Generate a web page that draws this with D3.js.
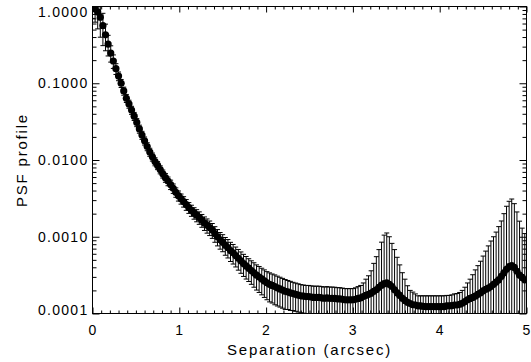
<!DOCTYPE html>
<html>
<head>
<meta charset="utf-8">
<script src="https://cdn.jsdelivr.net/npm/d3@7"></script>
<style>
  body { margin: 0; background: #fff; }
  svg { display: block; background: #fff; }
  text { font-family: "Liberation Sans", Arial, sans-serif; font-size: 14px; fill: #000; letter-spacing: 1.3px; }
  text.title { font-size: 15px; letter-spacing: 1.8px; }
</style>
</head>
<body>
<svg id="drawing_region"></svg>
<script>
// separation in arcsec
const separation = [
  0, 0.03, 0.06, 0.09, 0.12, 0.15, 0.18, 0.21, 0.24, 0.27,
  0.3, 0.33, 0.36, 0.39, 0.42, 0.45, 0.48, 0.51, 0.54, 0.57,
  0.6, 0.63, 0.66, 0.69, 0.72, 0.75, 0.78, 0.81, 0.84, 0.87,
  0.9, 0.93, 0.96, 0.99, 1.02, 1.05, 1.08, 1.11, 1.14, 1.17,
  1.2, 1.23, 1.26, 1.29, 1.32, 1.35, 1.38, 1.41, 1.44, 1.47,
  1.5, 1.53, 1.56, 1.59, 1.62, 1.65, 1.68, 1.71, 1.74, 1.77,
  1.8, 1.83, 1.86, 1.89, 1.92, 1.95, 1.98, 2.01, 2.04, 2.07,
  2.1, 2.13, 2.16, 2.19, 2.22, 2.25, 2.28, 2.31, 2.34, 2.37,
  2.4, 2.43, 2.46, 2.49, 2.52, 2.55, 2.58, 2.61, 2.64, 2.67,
  2.7, 2.73, 2.76, 2.79, 2.82, 2.85, 2.88, 2.91, 2.94, 2.97,
  3, 3.03, 3.06, 3.09, 3.12, 3.15, 3.18, 3.21, 3.24, 3.27,
  3.3, 3.33, 3.36, 3.39, 3.42, 3.45, 3.48, 3.51, 3.54, 3.57,
  3.6, 3.63, 3.66, 3.69, 3.72, 3.75, 3.78, 3.81, 3.84, 3.87,
  3.9, 3.93, 3.96, 3.99, 4.02, 4.05, 4.08, 4.11, 4.14, 4.17,
  4.2, 4.23, 4.26, 4.29, 4.32, 4.35, 4.38, 4.41, 4.44, 4.47,
  4.5, 4.53, 4.56, 4.59, 4.62, 4.65, 4.68, 4.71, 4.74, 4.77,
  4.8, 4.83, 4.86, 4.89, 4.92, 4.95, 4.98
];

// normalised PSF profile
const profile = [
  1.000, 0.933, 0.851, 0.724, 0.562, 0.427, 0.324, 0.248, 0.195, 0.155,
  0.124, 0.100, 0.0794, 0.0638, 0.0537, 0.0447, 0.0372, 0.0309, 0.0254, 0.0211,
  0.0178, 0.0150, 0.0127, 0.0110, 0.00955, 0.00851, 0.00750, 0.00661, 0.00589, 0.00531,
  0.00479, 0.00427, 0.00380, 0.00343, 0.00313, 0.00288, 0.00263, 0.00240, 0.00221, 0.00204,
  0.00191, 0.00178, 0.00164, 0.00151, 0.00141, 0.00132, 0.00122, 0.00110, 0.00100, 0.000912,
  0.000851, 0.000776, 0.000724, 0.000661, 0.000617, 0.000569, 0.000525, 0.000484, 0.000447, 0.000417,
  0.000389, 0.000363, 0.000339, 0.000316, 0.000299, 0.000282, 0.000266, 0.000251, 0.000240, 0.000232,
  0.000224, 0.000216, 0.000209, 0.000202, 0.000195, 0.000191, 0.000186, 0.000182, 0.000178, 0.000174,
  0.000170, 0.000168, 0.000166, 0.000166, 0.000164, 0.000162, 0.000162, 0.000162, 0.000160, 0.000158,
  0.000160, 0.000158, 0.000158, 0.000157, 0.000155, 0.000155, 0.000153, 0.000151, 0.000151, 0.000151,
  0.000151, 0.000153, 0.000157, 0.000160, 0.000166, 0.000172, 0.000178, 0.000184, 0.000195, 0.000204,
  0.000219, 0.000234, 0.000245, 0.000251, 0.000240, 0.000224, 0.000204, 0.000186, 0.000172, 0.000158,
  0.000148, 0.000140, 0.000135, 0.000130, 0.000129, 0.000126, 0.000126, 0.000124, 0.000123, 0.000123,
  0.000123, 0.000123, 0.000123, 0.000123, 0.000123, 0.000123, 0.000126, 0.000126, 0.000127, 0.000129,
  0.000129, 0.000132, 0.000136, 0.000143, 0.000151, 0.000157, 0.000162, 0.000168, 0.000178, 0.000186,
  0.000197, 0.000207, 0.000214, 0.000224, 0.000240, 0.000257, 0.000275, 0.000305, 0.000339, 0.000376,
  0.000407, 0.000422, 0.000398, 0.000355, 0.000316, 0.000295, 0.000275
];

// 1-sigma error on the profile
const profileErr = [
  0.30, 0.308, 0.340, 0.326, 0.253, 0.162, 0.0972, 0.0595, 0.039, 0.0248,
  0.0161, 0.012, 0.00953, 0.00766, 0.00644, 0.00536, 0.00446, 0.00371, 0.00305, 0.00253,
  0.00214, 0.00180, 0.00152, 0.00132, 0.00115, 0.00102, 0.00090, 0.000793, 0.000766, 0.000690,
  0.000671, 0.000598, 0.000532, 0.000515, 0.000470, 0.000446, 0.000421, 0.000384, 0.000365, 0.000347,
  0.000344, 0.000329, 0.000312, 0.000302, 0.000296, 0.000284, 0.000268, 0.000253, 0.000240, 0.000223,
  0.000213, 0.000202, 0.000195, 0.000185, 0.000176, 0.000165, 0.000158, 0.000150, 0.000143, 0.000136,
  0.000128, 0.000123, 0.000119, 0.000114, 0.000111, 0.000107, 0.000104, 0.000100, 0.0000984, 0.0000951,
  0.0000941, 0.0000907, 0.0000878, 0.0000848, 0.0000819, 0.0000783, 0.0000763, 0.0000728, 0.0000712, 0.0000696,
  0.000068, 0.000067, 0.000066, 0.000066, 0.000065, 0.000065, 0.000065, 0.000065, 0.000064, 0.000063,
  0.000064, 0.000063, 0.000063, 0.000063, 0.000062, 0.000062, 0.000061, 0.000060, 0.000060, 0.000060,
  0.000060, 0.000063, 0.000067, 0.000072, 0.000084, 0.000108, 0.000132, 0.000176, 0.000255, 0.000346,
  0.000461, 0.000616, 0.000805, 0.000869, 0.00076, 0.000596, 0.000476, 0.000354, 0.000258, 0.000182,
  0.000132, 0.00009, 0.000065, 0.00006, 0.000051, 0.000044, 0.000044, 0.000046, 0.000047, 0.000047,
  0.000047, 0.000047, 0.000047, 0.000047, 0.000047, 0.000047, 0.000046, 0.000046, 0.000048, 0.000051,
  0.000053, 0.000056, 0.000064, 0.000077, 0.000099, 0.000123, 0.000158, 0.000202, 0.000242, 0.000294,
  0.000363, 0.000443, 0.000546, 0.000656, 0.00076, 0.000893, 0.00108, 0.0013, 0.00166, 0.00212,
  0.00249, 0.00268, 0.0023, 0.00175, 0.00128, 0.001, 0.000825
];

const xTicks = [0, 1, 2, 3, 4, 5];
const yTicks = [1, 0.1, 0.01, 0.001, 0.0001];
const xTitle = "Separation (arcsec)";
const yTitle = "PSF profile";

const width = 531, height = 362;
const margin = { left: 92.5, right: 526.5, top: 6.5, bottom: 313.5 };

const svg = d3.select('#drawing_region')
    .attr('width', width)
    .attr('height', height);

const xscale = d3.scaleLinear().domain([0, 5]).range([margin.left, margin.right]);
const yscale = d3.scaleLog().domain([0.0001, 1]).range([margin.bottom, margin.top]);

const data = separation.map((s, i) => ({ x: s, y: profile[i], e: profileErr[i] }));

// clip everything to the plot box
svg.append('clipPath').attr('id', 'plotclip')
    .append('rect')
    .attr('x', margin.left).attr('y', margin.top)
    .attr('width', margin.right - margin.left).attr('height', margin.bottom - margin.top);

const plot = svg.append('g').attr('clip-path', 'url(#plotclip)');

const lowY = d => d.y - d.e > 0 ? yscale(d.y - d.e) : margin.bottom + 50;
const capw = 2.5;

const bars = plot.append('g')
    .attr('stroke', '#000')
    .attr('stroke-width', 1);

bars.selectAll('line.bar')
    .data(data)
    .join('line')
    .attr('class', 'bar')
    .attr('x1', d => xscale(d.x)).attr('x2', d => xscale(d.x))
    .attr('y1', d => yscale(d.y + d.e))
    .attr('y2', d => lowY(d));

bars.selectAll('line.capt')
    .data(data)
    .join('line')
    .attr('class', 'capt')
    .attr('x1', d => xscale(d.x) - capw).attr('x2', d => xscale(d.x) + capw)
    .attr('y1', d => yscale(d.y + d.e)).attr('y2', d => yscale(d.y + d.e));

bars.selectAll('line.capb')
    .data(data)
    .join('line')
    .attr('class', 'capb')
    .attr('x1', d => xscale(d.x) - capw).attr('x2', d => xscale(d.x) + capw)
    .attr('y1', d => lowY(d)).attr('y2', d => lowY(d));

plot.append('g').selectAll('circle')
    .data(data)
    .join('circle')
    .attr('cx', d => xscale(d.x))
    .attr('cy', d => yscale(d.y))
    .attr('r', 3.6)
    .attr('fill', '#000');

// axes: ticks point inward, IDL style
const xminor = d3.range(0, 5.001, 0.1).filter(v => Math.abs(v - Math.round(v)) > 1e-6);
const yminor = [];
yTicks.slice(1).forEach(t => { for (let k = 2; k <= 9; k++) yminor.push(t * k); });

const fmt = d3.format('.4f');

const xaxis = d3.axisBottom(xscale).tickValues(xTicks).tickSize(-6).tickPadding(12).tickFormat(d3.format('d'));
const xaxisMinor = d3.axisBottom(xscale).tickValues(xminor).tickSize(-3).tickFormat('');
const xaxisTop = d3.axisTop(xscale).tickValues(xTicks).tickSize(-6).tickFormat('');
const xaxisTopMinor = d3.axisTop(xscale).tickValues(xminor).tickSize(-3).tickFormat('');

const yaxis = d3.axisLeft(yscale).tickValues(yTicks).tickSize(-7).tickPadding(4).tickFormat(fmt);
const yaxisMinor = d3.axisLeft(yscale).tickValues(yminor).tickSize(-4).tickFormat('');
const yaxisRight = d3.axisRight(yscale).tickValues(yTicks).tickSize(-7).tickFormat('');
const yaxisRightMinor = d3.axisRight(yscale).tickValues(yminor).tickSize(-4).tickFormat('');

function styleAxis(g) {
    g.select('.domain').remove();
    g.selectAll('line').attr('stroke', '#000');
    g.selectAll('text').attr('font-family', null).attr('font-size', null).attr('fill', '#000');
}

svg.append('g').attr('transform', `translate(0, ${margin.bottom})`).call(xaxis).call(styleAxis);
svg.append('g').attr('transform', `translate(0, ${margin.bottom})`).call(xaxisMinor).call(styleAxis);
svg.append('g').attr('transform', `translate(0, ${margin.top})`).call(xaxisTop).call(styleAxis);
svg.append('g').attr('transform', `translate(0, ${margin.top})`).call(xaxisTopMinor).call(styleAxis);

const ygroup = svg.append('g').attr('transform', `translate(${margin.left}, 0)`).call(yaxis).call(styleAxis);
// keep end labels inside the window
ygroup.selectAll('.tick text')
    .attr('y', d => d === 1 ? 6 : (d === 0.0001 ? -3 : 0));
svg.append('g').attr('transform', `translate(${margin.left}, 0)`).call(yaxisMinor).call(styleAxis);
svg.append('g').attr('transform', `translate(${margin.right}, 0)`).call(yaxisRight).call(styleAxis);
svg.append('g').attr('transform', `translate(${margin.right}, 0)`).call(yaxisRightMinor).call(styleAxis);

// frame
svg.append('rect')
    .attr('x', margin.left).attr('y', margin.top)
    .attr('width', margin.right - margin.left).attr('height', margin.bottom - margin.top)
    .attr('fill', 'none').attr('stroke', '#000').attr('stroke-width', 1);

svg.append('text')
    .attr('class', 'title')
    .attr('x', (margin.left + margin.right) / 2)
    .attr('y', 355)
    .attr('text-anchor', 'middle')
    .text(xTitle);

svg.append('text')
    .attr('class', 'title')
    .attr('transform', `translate(27, ${(margin.top + margin.bottom) / 2}) rotate(-90)`)
    .attr('text-anchor', 'middle')
    .text(yTitle);
</script>
</body>
</html>
